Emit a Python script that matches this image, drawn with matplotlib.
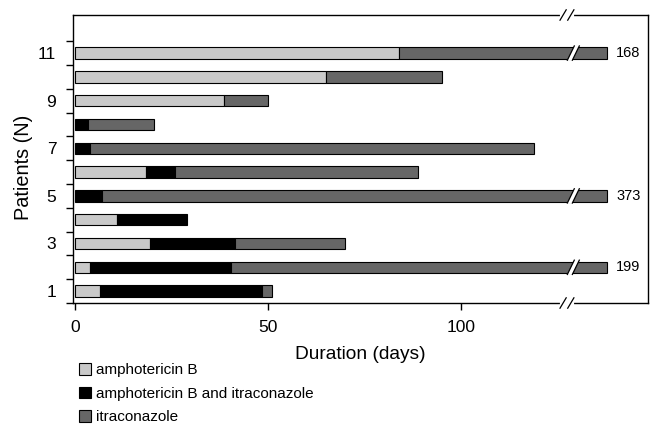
import numpy as np
import matplotlib.pyplot as plt
from matplotlib.patches import Patch, Polygon
from matplotlib.lines import Line2D

plt.rcParams['font.family'] = ['Liberation Sans', 'DejaVu Sans']

# days on each treatment, patients 1..11
patients = np.arange(1, 12)
amb = [6.5, 4, 19.5, 11, 0, 18.5, 0, 0, 38.5, 65, 84]
combo = [42, 36.5, 22, 18, 7, 7.5, 4, 3.5, 0, 0, 0]
itra = [2.5, 158.5, 28.5, 0, 366, 63, 115, 17, 11.5, 30, 84]
labels = ['amphotericin B', 'amphotericin B and itraconazole', 'itraconazole']
colors = ['#c9c9c9', '#000000', '#666666']

BREAK_AT = 127.5   # where the axis is cut
BAR_END = 138.0    # where a cut bar is drawn to end

fig = plt.figure(figsize=(6.58, 4.25), dpi=100)
ax = fig.add_axes([73 / 658, 1 - 303 / 425, 575 / 658, 288 / 425])

totals = np.array(amb) + np.array(combo) + np.array(itra)


def shown(v, total):
    # squeeze everything past the cut into the stub after it
    if total <= BREAK_AT or v <= BREAK_AT:
        return v
    return BREAK_AT + (v - BREAK_AT) / (total - BREAK_AT) * (BAR_END - BREAK_AT)


h = 0.48
for i, p in enumerate(patients):
    start = 0.0
    for seg, c in zip([amb[i], combo[i], itra[i]], colors):
        if seg > 0:
            x0 = shown(start, totals[i])
            x1 = shown(start + seg, totals[i])
            ax.barh(p, x1 - x0, left=x0, height=h, color=c,
                    edgecolor='black', linewidth=0.8)
        start += seg
    if totals[i] > BREAK_AT:
        # white slanted gap in the bar
        g = 1.3
        xs = BREAK_AT + 1.0
        poly = Polygon([[xs - 0.9, p - h / 2 - 0.06], [xs - 0.9 + g, p - h / 2 - 0.06],
                        [xs + 0.9 + g, p + h / 2 + 0.06], [xs + 0.9, p + h / 2 + 0.06]],
                       closed=True, facecolor='white', edgecolor='none', zorder=3)
        ax.add_patch(poly)
        for dx in (0, g):
            ax.plot([xs - 0.9 + dx, xs + 0.9 + dx], [p - h / 2 - 0.06, p + h / 2 + 0.06],
                    color='black', lw=0.9, zorder=4)
        ax.text(BAR_END + 2.3, p, f'{totals[i]:.0f}', va='center', ha='left',
                fontsize=10.5)

ax.set_xlim(-0.5, 148.5)
ax.set_ylim(0.5, 12.6)

ax.set_xticks([0, 50, 100])
ax.tick_params(axis='x', direction='out', length=5, width=1, labelsize=12.5, pad=7)

ax.set_yticks([1, 3, 5, 7, 9, 11])
ax.set_yticks(np.arange(0.5, 12, 1), minor=True)
ax.tick_params(axis='y', which='major', length=0, labelsize=12.5, pad=12)
ax.tick_params(axis='y', which='minor', direction='out', length=5, width=1)

for s in ax.spines.values():
    s.set_linewidth(1.0)

# cut marks on top and bottom spines
for yy in (0, 1):
    ax.add_line(Line2D([BREAK_AT - 1.3, BREAK_AT + 1.3], [yy, yy],
                       transform=ax.get_xaxis_transform(), color='white',
                       lw=3, zorder=5, clip_on=False))
    for dx in (-1.0, 1.0):
        ax.add_line(Line2D([BREAK_AT + dx - 0.8, BREAK_AT + dx + 0.8],
                           [yy - 0.018, yy + 0.018],
                           transform=ax.get_xaxis_transform(), color='black',
                           lw=0.9, zorder=6, clip_on=False))

ax.set_xlabel('Duration (days)', fontsize=13.8)
ax.set_ylabel('Patients (N)', fontsize=14.3)
ax.xaxis.set_label_coords(0.5, -0.148)
ax.yaxis.set_label_coords(-40 / 575, 0.47)

handles = [Patch(facecolor=c, edgecolor='black', linewidth=0.8) for c in colors]
fig.legend(handles, labels, loc='upper left', bbox_to_anchor=(79 / 658, 1 - 363 / 425),
           frameon=False, fontsize=11, handlelength=0.8, handleheight=0.8,
           handletextpad=0.3, labelspacing=0.62, borderpad=0, borderaxespad=0)

fig.savefig('out.png', dpi=100)
